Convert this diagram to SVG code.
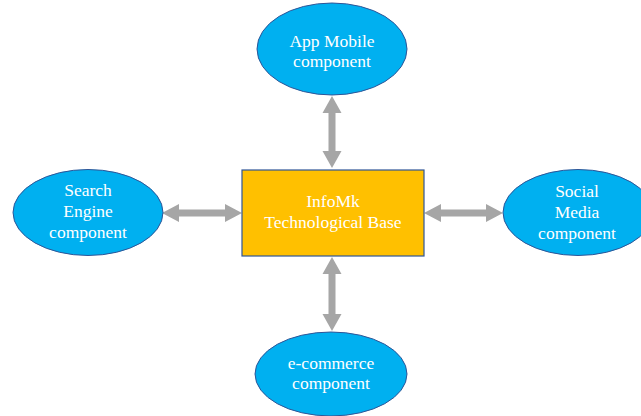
<svg xmlns="http://www.w3.org/2000/svg" width="641" height="416" viewBox="0 0 641 416">
  <style>
    .comp { fill: #00B0F0; stroke: #2F5597; stroke-width: 1; }
    .base { fill: #FFC000; stroke: #2F5597; stroke-width: 1.2; }
    .lbl { font-size: 17.5px; fill: #FFFFFF; text-anchor: middle; }
    .arrow { fill: #A6A6A6; }
  </style>
  <rect width="641" height="416" fill="#FFFFFF"/>

  <g id="connectors">
    <!-- vertical double arrows -->
    <polygon class="arrow" points="332,96 341.5,113 335.5,113 335.5,151 341.5,151 332,168 322.5,151 328.5,151 328.5,113 322.5,113"/>
    <polygon class="arrow" points="332,257 341.5,274 335.5,274 335.5,314 341.5,314 332,331 322.5,314 328.5,314 328.5,274 322.5,274"/>
    <!-- horizontal double arrows -->
    <polygon class="arrow" points="162,213 179,204 179,209.5 225,209.5 225,204 242,213 225,222 225,216.5 179,216.5 179,222"/>
    <polygon class="arrow" points="424,213 441,204 441,209.5 486,209.5 486,204 503,213 486,222 486,216.5 441,216.5 441,222"/>
  </g>

  <g font-family="'Liberation Serif', 'Times New Roman', serif">
    <g id="base">
      <rect class="base" x="242" y="170" width="182" height="86"/>
      <text class="lbl" x="333" y="207">InfoMk</text>
      <text class="lbl" x="333" y="228">Technological Base</text>
    </g>

    <g id="app-mobile">
      <ellipse class="comp" cx="332" cy="49" rx="75" ry="46"/>
      <text class="lbl" x="332" y="47">App Mobile</text>
      <text class="lbl" x="332" y="67">component</text>
    </g>

    <g id="search-engine">
      <ellipse class="comp" cx="88" cy="212.5" rx="75" ry="43"/>
      <text class="lbl" x="88" y="196">Search</text>
      <text class="lbl" x="88" y="217">Engine</text>
      <text class="lbl" x="88" y="238">component</text>
    </g>

    <g id="social-media">
      <ellipse class="comp" cx="578" cy="212.5" rx="75" ry="43"/>
      <text class="lbl" x="577" y="197">Social</text>
      <text class="lbl" x="577" y="218">Media</text>
      <text class="lbl" x="577" y="239">component</text>
    </g>

    <g id="e-commerce">
      <ellipse class="comp" cx="331" cy="374" rx="76" ry="42"/>
      <text class="lbl" x="331" y="369">e-commerce</text>
      <text class="lbl" x="331" y="389">component</text>
    </g>
  </g>
</svg>
